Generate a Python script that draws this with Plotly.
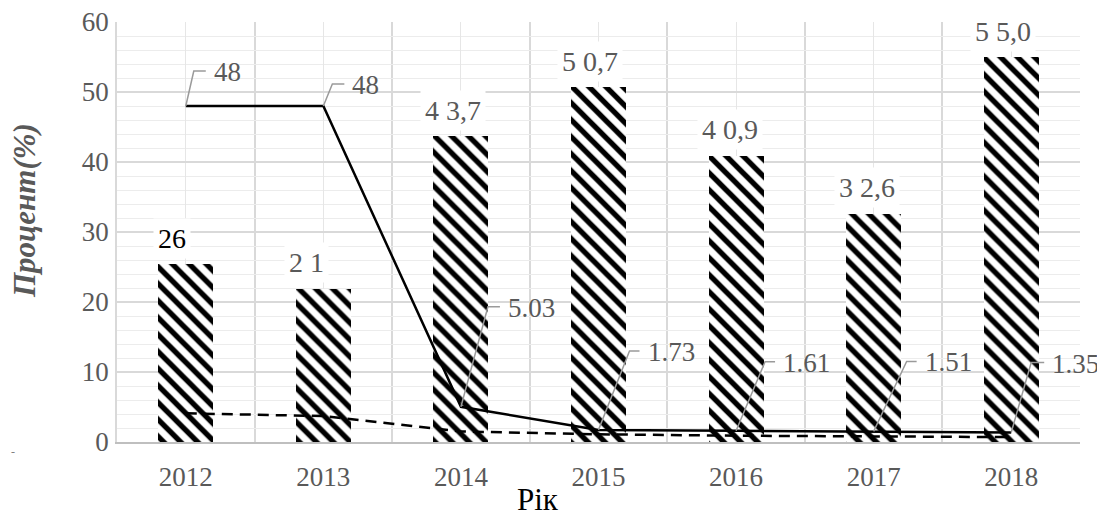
import plotly.graph_objects as go

years = ["2012", "2013", "2014", "2015", "2016", "2017", "2018"]
bar_values = [25.4, 21.9, 43.7, 50.7, 40.9, 32.6, 55.0]
bar_labels = ["26", "2 1", "4 3,7", "5 0,7", "4 0,9", "3 2,6", "5 5,0"]
solid_values = [48, 48, 5.03, 1.73, 1.61, 1.51, 1.35]
solid_labels = ["48", "48", "5.03", "1.73", "1.61", "1.51", "1.35"]
dashed_values = [4.1, 3.7, 1.5, 1.1, 0.9, 0.8, 0.7]
y_ticks = [0, 10, 20, 30, 40, 50, 60]

xs = list(range(len(years)))
FONT = "Liberation Serif"
GREY = "#595959"

fig = go.Figure()
fig.add_trace(go.Bar(
    x=xs, y=bar_values, width=0.4,
    marker=dict(color="white", line=dict(width=0),
                pattern=dict(shape="\\", size=12, solidity=0.45,
                             fgcolor="black", bgcolor="white", fillmode="replace")),
    showlegend=False, hoverinfo="skip"))
fig.add_trace(go.Scatter(x=xs, y=solid_values, mode="lines",
                         line=dict(color="black", width=2.5), showlegend=False))
fig.add_trace(go.Scatter(x=xs, y=dashed_values, mode="lines",
                         line=dict(color="black", width=2.5, dash="11px,7px"), showlegend=False))

# bar data labels
bar_xshift = [-14, -17, -8, -9, -6, -7, -8]
for i, (v, t) in enumerate(zip(bar_values, bar_labels)):
    fig.add_annotation(x=xs[i], y=v, text=t, showarrow=False, yanchor="middle",
                       yshift=26, xshift=bar_xshift[i], bgcolor="white", borderpad=4,
                       font=dict(family=FONT, size=28, color="black" if i == 0 else GREY))

# leader-line labels for the solid series
lead = [(8, 35, 20), (9, 22, 21), (27, 100, 39), (31, 79, 41), (29, 69, 39), (33, 70, 43), (20, 70, 33)]
for i, (v, t) in enumerate(zip(solid_values, solid_labels)):
    dx1, dy, dx2 = lead[i]
    fig.add_shape(type="path", xref="x", yref="y", xsizemode="pixel", ysizemode="pixel",
                  xanchor=xs[i], yanchor=v,
                  path=f"M0,0 L{dx1},{dy} L{dx2},{dy}",
                  line=dict(color="#9a9a9a", width=1.5), layer="above")
    fig.add_annotation(x=xs[i], y=v, text=t, showarrow=False, xanchor="left", yanchor="middle",
                       xshift=dx2 + 6, yshift=dy - 1,
                       font=dict(family=FONT, size=27, color=GREY))

fig.add_annotation(xref="paper", yref="paper", x=-0.0955, y=0.55, xanchor="center", yanchor="middle",
                   text="<b><i>Процент(%)</i></b>",
                   textangle=-90, showarrow=False, font=dict(family=FONT, size=31, color=GREY))
fig.add_annotation(xref="paper", yref="paper", x=0.437, y=-0.138, xanchor="center", yanchor="middle",
                   text="Рік",
                   showarrow=False, font=dict(family=FONT, size=31, color="black"))
fig.add_annotation(xref="paper", yref="paper", x=-0.108, y=-0.024, xanchor="center", yanchor="middle",
                   text="-",
                   showarrow=False, font=dict(family=FONT, size=12, color="#808080"))

# page body has an 8px margin, so size/margins compensate for it
fig.update_layout(
    width=1097, height=513,
    margin=dict(l=109, r=25, t=14, b=79, autoexpand=False),
    plot_bgcolor="white", paper_bgcolor="white",
    bargap=0,
)
fig.update_xaxes(
    range=[-0.5, 6.5], tickmode="array", tickvals=xs, ticktext=years,
    showgrid=True, gridcolor="#e6e6e6", gridwidth=1,
    minor=dict(tickmode="array", tickvals=[i - 0.5 for i in range(len(years) + 1)],
               showgrid=True, gridcolor="#d9d9d9", gridwidth=1.5),
    showline=True, linecolor="#bfbfbf", linewidth=1.5, ticks="",
    tickfont=dict(family=FONT, size=27, color=GREY), ticklabelstandoff=10,
    ticklabeloverflow="allow",
    zeroline=False, automargin=False,
)
fig.update_yaxes(
    range=[0, 60], tickmode="array", tickvals=y_ticks,
    showgrid=True, gridcolor="#d9d9d9", gridwidth=1.5,
    minor=dict(dtick=2, showgrid=True, gridcolor="#ececec", gridwidth=1),
    showline=True, linecolor="#d9d9d9", linewidth=1.5, ticks="",
    tickfont=dict(family=FONT, size=27, color=GREY), ticklabelstandoff=1,
    ticklabeloverflow="allow",
    zeroline=False, automargin=False,
)
fig.write_html("out.html")
